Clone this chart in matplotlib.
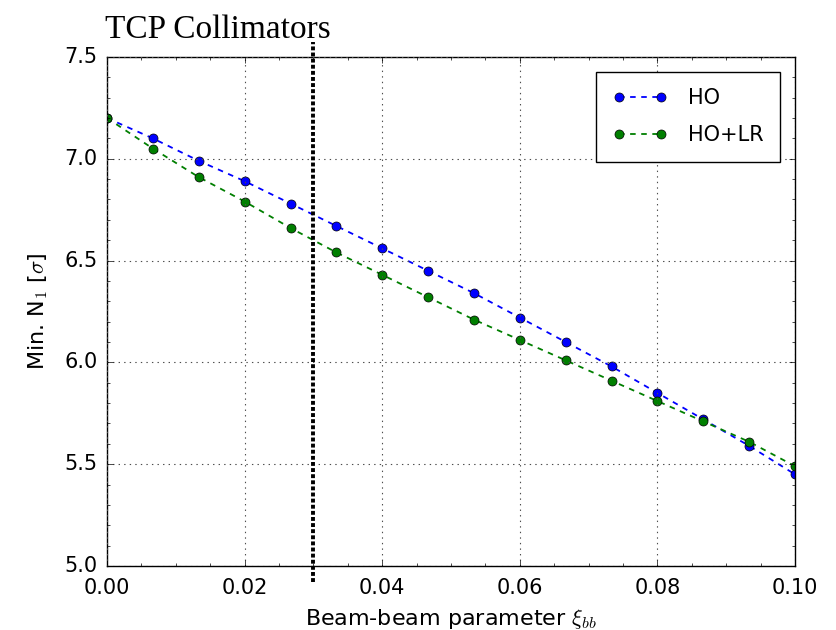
import matplotlib
matplotlib.use("Agg")
import matplotlib.pyplot as plt
import numpy as np

# beam-beam parameter scan
xi_bb = [0.0, 0.00667, 0.01333, 0.02, 0.02667, 0.03333, 0.04, 0.04667,
         0.05333, 0.06, 0.06667, 0.07333, 0.08, 0.08667, 0.09333, 0.1]
n1_ho = [7.20, 7.10, 6.99, 6.89, 6.78, 6.67, 6.56, 6.45,
         6.34, 6.22, 6.10, 5.98, 5.85, 5.72, 5.59, 5.45]
n1_ho_lr = [7.20, 7.05, 6.91, 6.79, 6.66, 6.54, 6.43, 6.32,
            6.21, 6.11, 6.01, 5.91, 5.81, 5.71, 5.61, 5.49]
labels = ["HO", "HO+LR"]
tcp_xi = 0.03

plt.style.use("classic")
fig = plt.figure(figsize=(8.36, 6.3), dpi=100, facecolor="white")
ax = fig.add_axes([0.128, 0.1016, 0.823, 0.808])

ax.plot(xi_bb, n1_ho, "o--", color="#0000ff", markersize=6.5, lw=1.3,
        dashes=(4, 4), label=labels[0])
ax.plot(xi_bb, n1_ho_lr, "o--", color="#007f00", markersize=6.5, lw=1.3,
        dashes=(4, 4), label=labels[1])

ax.set_xlim(0, 0.1)
ax.set_ylim(5.0, 7.5)
ax.set_xticks(np.arange(0, 0.101, 0.02))
ax.set_yticks(np.arange(5.0, 7.51, 0.5))
ax.minorticks_on()
ax.grid(True, which="major", linestyle=":", color="0.3", lw=0.8)
ax.tick_params(labelsize=15)
ax.tick_params(axis="x", pad=9)
ax.tick_params(axis="y", pad=7)

# collimator line runs a little past the axes frame
ax.plot([tcp_xi, tcp_xi], [4.92, 7.575], color="black", ls="--",
        lw=2.8, dashes=(2.8, 1.6), clip_on=False, zorder=5)

ax.set_xlabel(r"Beam-beam parameter $\xi_{bb}$", fontsize=16, labelpad=6)
ax.set_ylabel(r"Min. N$_1$ [$\sigma$]", fontsize=16, labelpad=10)

leg = ax.legend(loc="upper right", fontsize=15, numpoints=2,
                borderaxespad=0.7, borderpad=0.8, labelspacing=0.8,
                handlelength=2.6, handletextpad=1.0, fancybox=False)
leg.get_frame().set_edgecolor("black")

fig.text(0.126, 0.94, "TCP Collimators", family="Liberation Serif",
         fontsize=24, ha="left", va="baseline")

fig.savefig("out.png", dpi=100, facecolor="white")
